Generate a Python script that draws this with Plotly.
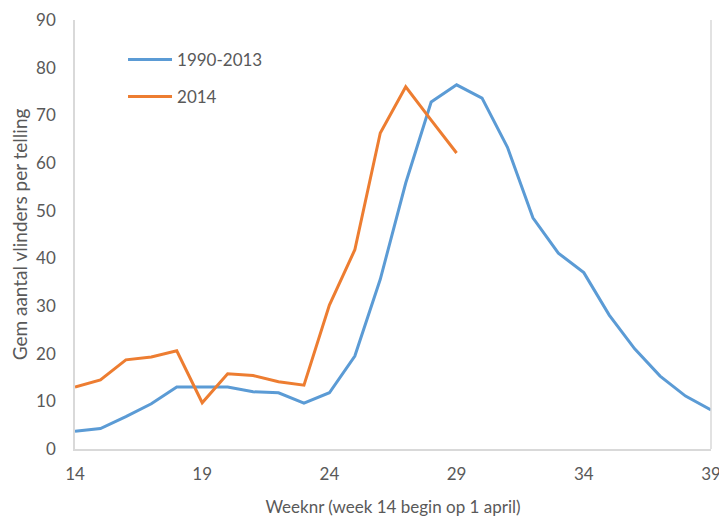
import plotly.graph_objects as go

weeks_hist = list(range(14, 40))
hist_1990_2013 = [3.7, 4.3, 6.8, 9.5, 13.0, 13.0, 13.0, 12.0, 11.8, 9.6, 11.8, 19.5, 35.6,
                  55.8, 72.8, 76.4, 73.6, 63.3, 48.5, 41.1, 37.0, 28.1, 21.0, 15.3, 11.1, 8.2]
weeks_2014 = list(range(14, 30))
vals_2014 = [13.0, 14.5, 18.7, 19.3, 20.6, 9.7, 15.8, 15.4, 14.1, 13.4, 30.2, 41.8,
             66.3, 76.0, 69.0, 62.1]
x_ticks = [14, 19, 24, 29, 34, 39]
y_ticks = list(range(0, 100, 10))

FONT = "Lato, 'Liberation Sans', sans-serif"
GREY = "#595959"

fig = go.Figure()
fig.add_trace(go.Scatter(x=weeks_hist, y=hist_1990_2013, mode="lines", name="1990-2013",
                         line=dict(color="#5B9BD5", width=3), legendgroup="a"))
fig.add_trace(go.Scatter(x=weeks_2014, y=vals_2014, mode="lines", name="2014",
                         line=dict(color="#ED7D31", width=3), legendgroup="b"))

fig.update_layout(
    width=719, height=509,
    margin=dict(l=67, r=16, t=12, b=68),
    paper_bgcolor="white", plot_bgcolor="white",
    font=dict(family=FONT, size=16, color=GREY),
    showlegend=True,
    legend=dict(x=0.0755, y=0.949, xanchor="left", yanchor="top",
                bgcolor="rgba(0,0,0,0)", font=dict(size=17, color=GREY),
                traceorder="grouped", tracegroupgap=12, itemwidth=44),
    xaxis=dict(range=[14, 39], tickvals=x_ticks, showgrid=False, zeroline=False,
               automargin=False,
               showline=True, linecolor="#D9D9D9", linewidth=1.5,
               ticks="outside", ticklen=9, tickcolor="rgba(0,0,0,0)",
               tickfont=dict(size=17, color=GREY),
               title=dict(text="Weeknr (week 14 begin op 1 april)", standoff=21,
                          font=dict(size=17, color=GREY))),
    yaxis=dict(range=[0, 90], tickvals=y_ticks, showgrid=False, zeroline=False,
               automargin=False,
               showline=True, linecolor="#D9D9D9", linewidth=1.5,
               ticks="outside", ticklen=14, tickcolor="rgba(0,0,0,0)",
               tickfont=dict(size=17, color=GREY),
               title=dict(text="Gem aantal vlinders per telling", standoff=4,
                          font=dict(size=19, color=GREY))),
)
fig.add_shape(type="line", xref="paper", yref="paper", x0=1, x1=1, y0=0, y1=1,
              line=dict(color="#D9D9D9", width=1.5))

fig.write_html("out.html")
